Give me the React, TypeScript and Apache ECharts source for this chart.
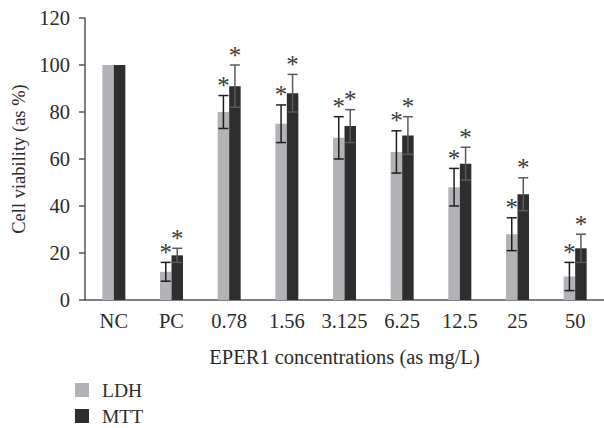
import React, { useEffect, useRef } from "react";
import * as echarts from "echarts";

const categories = ["NC", "PC", "0.78", "1.56", "3.125", "6.25", "12.5", "25", "50"];
const ldhValues = [100, 12, 80, 75, 69, 63, 48, 28, 10];
const ldhErrors = [0, 4, 7, 8, 9, 9, 8, 7, 6];
const ldhSignificant = [0, 1, 1, 1, 1, 1, 1, 1, 1];
const mttValues = [100, 19, 91, 88, 74, 70, 58, 45, 22];
const mttErrors = [0, 3, 9, 8, 7, 8, 7, 7, 6];
const mttSignificant = [0, 1, 1, 1, 1, 1, 1, 1, 1];
const yTicks = { min: 0, max: 120, interval: 20 };

const FONT = "Liberation Serif";
const FS = 20.5;
const BAR_W = 11.5;
const TEXT = "#2b2b2b";

function errSeries(name: string, vals: number[], errs: number[], sig: number[], offset: number, color: string) {
  return {
    name,
    type: "custom",
    z: 5,
    data: vals.map((v, i) => [i, v, errs[i], sig[i]]),
    renderItem: (params: any, api: any) => {
      const i = api.value(0);
      const v = api.value(1);
      const e = api.value(2);
      const s = api.value(3);
      const top = api.coord([i, v + e]);
      const bot = api.coord([i, v - e]);
      const x = top[0] + offset;
      const children: any[] = [];
      const ls = { stroke: color, lineWidth: 1.5 };
      if (e > 0) {
        children.push({ type: "line", shape: { x1: x, y1: top[1], x2: x, y2: bot[1] }, style: ls });
        children.push({ type: "line", shape: { x1: x - 5, y1: top[1], x2: x + 5, y2: top[1] }, style: ls });
        children.push({ type: "line", shape: { x1: x - 5, y1: bot[1], x2: x + 5, y2: bot[1] }, style: ls });
      }
      if (s) {
        children.push({
          type: "text",
          x,
          y: top[1] - 10,
          style: {
            text: "*",
            font: `25px "${FONT}"`,
            fill: "#3a3a3a",
            align: "center",
            verticalAlign: "middle",
          },
        });
      }
      return { type: "group", children };
    },
  };
}

const legendBase = {
  orient: "horizontal",
  left: 75,
  icon: "rect",
  itemWidth: 14,
  itemHeight: 14,
  padding: 0,
  textStyle: { fontFamily: FONT, fontSize: 19.5, lineHeight: 16, color: TEXT, padding: [0, 0, 0, 8] },
};

export default function App() {
  const ref = useRef<HTMLDivElement>(null);
  useEffect(() => {
    document.body.style.margin = "0";
    const chart = echarts.init(ref.current!, null, { renderer: "svg" });
    chart.setOption({
      animation: false,
      backgroundColor: "#ffffff",
      textStyle: { fontFamily: FONT },
      grid: { left: 85, right: 0, top: 18, bottom: 128, containLabel: false },
      legend: [
        { ...legendBase, data: ["LDH"], top: 380 },
        { ...legendBase, data: ["MTT"], top: 406 },
      ],
      xAxis: {
        type: "category",
        data: categories,
        name: "EPER1 concentrations (as mg/L)",
        nameLocation: "middle",
        nameGap: 46,
        nameTextStyle: { fontFamily: FONT, fontSize: FS, color: TEXT },
        axisLine: { lineStyle: { color: "#555", width: 1.5 } },
        axisTick: { show: false },
        axisLabel: { fontFamily: FONT, fontSize: FS, color: TEXT, margin: 10, interval: 0 },
      },
      yAxis: {
        type: "value",
        min: yTicks.min,
        max: yTicks.max,
        interval: yTicks.interval,
        name: "Cell viability (as %)",
        nameLocation: "middle",
        nameGap: 46,
        nameTextStyle: { fontFamily: FONT, fontSize: 18.5, color: TEXT },
        axisLine: { show: true, lineStyle: { color: "#555", width: 1.5 } },
        axisTick: { show: true, inside: false, length: 6, lineStyle: { color: "#555", width: 1.5 } },
        axisLabel: { fontFamily: FONT, fontSize: FS, color: TEXT, margin: 15 },
        splitLine: { show: false },
      },
      series: [
        {
          name: "LDH",
          type: "bar",
          data: ldhValues,
          barWidth: BAR_W,
          barGap: "0%",
          itemStyle: { color: "#b2b3b7" },
        },
        {
          name: "MTT",
          type: "bar",
          data: mttValues,
          barWidth: BAR_W,
          barGap: "0%",
          itemStyle: { color: "#2e2e2e" },
        },
        errSeries("LDH-err", ldhValues, ldhErrors, ldhSignificant, -BAR_W / 2, "#1e1e1e"),
        errSeries("MTT-err", mttValues, mttErrors, mttSignificant, BAR_W / 2, "#5a5a5a"),
      ],
    });
    return () => chart.dispose();
  }, []);
  return <div ref={ref} style={{ position: "absolute", left: 0, top: 0, width: 604, height: 428 }} />;
}
